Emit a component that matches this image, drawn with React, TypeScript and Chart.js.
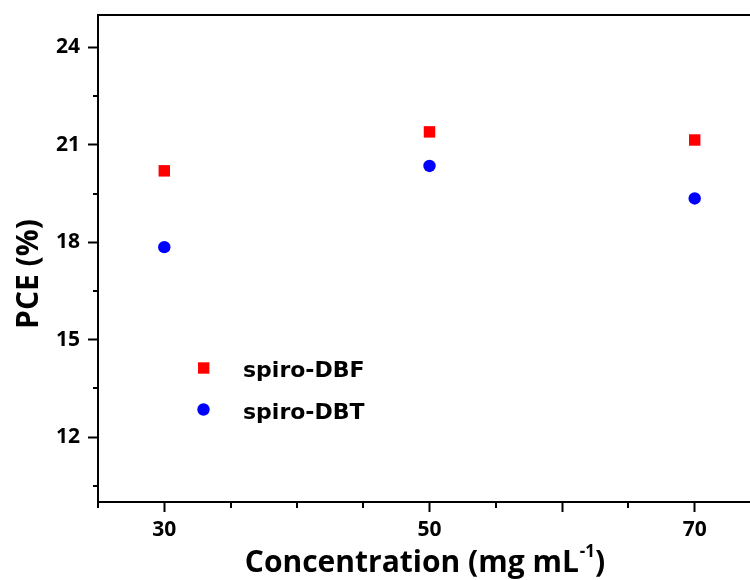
import React, { useEffect, useRef } from 'react';
import { Chart, registerables } from 'chart.js';

Chart.register(...registerables);

// ---- data ----
const concentrations = [30, 50, 70];
const dbfPCE = [20.2, 21.4, 21.15];
const dbtPCE = [17.85, 20.35, 19.35];
const seriesLabels = ['spiro-DBF', 'spiro-DBT'];
const seriesColors = ['#ff0000', '#0000ff'];

// ---- ticks ----
const xTickValues = [25, 30, 35, 40, 45, 50, 55, 60, 65, 70];
const xLongTicks = [30, 50, 60, 70];
const xLabelTicks = [30, 50, 70];
const yTickValues = [10.5, 12, 13.5, 15, 16.5, 18, 19.5, 21, 22.5, 24];
const yMajorTicks = [12, 15, 18, 21, 24];

// ---- titles ----
const xTitleMain = 'Concentration (mg mL';
const xTitleSup = '-1';
const xTitleEnd = ')';
const yTitle = 'PCE (%)';

const TICK_FONT = { family: '"Open Sans", sans-serif', size: 21, weight: 'bold' as const };

const decorPlugin = {
  id: 'decor',
  afterDraw(chart: any) {
    const { ctx, chartArea, scales } = chart;
    const x = scales.x;
    const y = scales.y;
    ctx.save();
    ctx.strokeStyle = '#000';
    ctx.lineWidth = 2;
    // top frame line
    ctx.beginPath();
    ctx.moveTo(chartArea.left - 1, chartArea.top);
    ctx.lineTo(chart.width, chartArea.top);
    ctx.stroke();
    // minor x ticks
    xTickValues.filter((v) => !xLongTicks.includes(v)).forEach((v) => {
      const px = Math.round(x.getPixelForValue(v));
      ctx.beginPath();
      ctx.moveTo(px, chartArea.bottom);
      ctx.lineTo(px, chartArea.bottom + 6);
      ctx.stroke();
    });
    // minor y ticks
    yTickValues.filter((v) => !yMajorTicks.includes(v)).forEach((v) => {
      const py = Math.round(y.getPixelForValue(v));
      ctx.beginPath();
      ctx.moveTo(chartArea.left - 5, py);
      ctx.lineTo(chartArea.left, py);
      ctx.stroke();
    });

    ctx.fillStyle = '#000';
    // y title
    ctx.save();
    ctx.translate(37.5, 274);
    ctx.rotate(-Math.PI / 2);
    ctx.font = 'bold 30px "Open Sans", sans-serif';
    ctx.textAlign = 'center';
    ctx.textBaseline = 'alphabetic';
    ctx.fillText(yTitle, 0, 0);
    ctx.restore();

    // x title with superscript
    const mainFont = 'bold 30px "Open Sans", sans-serif';
    const supFont = 'bold 17px "Open Sans", sans-serif';
    ctx.textBaseline = 'alphabetic';
    ctx.textAlign = 'left';
    ctx.font = mainFont;
    const w1 = ctx.measureText(xTitleMain).width;
    const w3 = ctx.measureText(xTitleEnd).width;
    ctx.font = supFont;
    const w2 = ctx.measureText(xTitleSup).width + 1;
    const total = w1 + w2 + w3;
    const startX = 425 - total / 2;
    const baseY = 572;
    ctx.font = mainFont;
    ctx.fillText(xTitleMain, startX, baseY);
    ctx.font = supFont;
    ctx.fillText(xTitleSup, startX + w1 + 1, baseY - 15);
    ctx.font = mainFont;
    ctx.fillText(xTitleEnd, startX + w1 + w2, baseY);

    // legend
    const legendItems = chart.data.datasets.map((d: any) => ({ label: d.label, color: d.backgroundColor, style: d.pointStyle }));
    const legendY = [368, 409.5];
    legendItems.forEach((it: any, i: number) => {
      const cy = legendY[i];
      ctx.fillStyle = it.color;
      if (it.style === 'rect') {
        ctx.fillRect(203.7 - 5.7, cy - 5.7, 11.4, 11.4);
      } else {
        ctx.beginPath();
        ctx.arc(203.5, cy, 6.2, 0, Math.PI * 2);
        ctx.fill();
      }
      ctx.fillStyle = '#000';
      ctx.font = 'bold 22px "DejaVu Sans", sans-serif';
      ctx.textAlign = 'left';
      ctx.textBaseline = 'alphabetic';
      ctx.fillText(it.label, 243, cy + 9);
    });
    ctx.restore();
  },
};

export default function App() {
  const ref = useRef<HTMLCanvasElement | null>(null);
  useEffect(() => {
    if (!ref.current) return;
    const chart = new Chart(ref.current, {
      type: 'scatter',
      data: {
        datasets: [
          {
            label: seriesLabels[0],
            data: concentrations.map((c, i) => ({ x: c, y: dbfPCE[i] })),
            backgroundColor: seriesColors[0],
            borderColor: seriesColors[0],
            borderWidth: 0,
            pointStyle: 'rect',
            pointRadius: 8.1,
          },
          {
            label: seriesLabels[1],
            data: concentrations.map((c, i) => ({ x: c, y: dbtPCE[i] })),
            backgroundColor: seriesColors[1],
            borderColor: seriesColors[1],
            borderWidth: 0,
            pointStyle: 'circle',
            pointRadius: 6.2,
          },
        ],
      },
      options: {
        animation: false,
        responsive: false,
        devicePixelRatio: 1,
        layout: { padding: { top: 15, right: 9, left: 0, bottom: 0 } },
        plugins: { legend: { display: false }, tooltip: { enabled: false } },
        scales: {
          x: {
            type: 'linear',
            min: 25,
            max: 75,
            afterFit: (s: any) => { s.height = 78; s.paddingLeft = 0; s.paddingRight = 0; },
            afterBuildTicks: (s: any) => { s.ticks = xTickValues.map((v) => ({ value: v })); },
            border: { display: true, color: '#000', width: 2 },
            grid: {
              display: true,
              drawOnChartArea: false,
              drawTicks: true,
              tickLength: 10,
              tickWidth: 2,
              tickColor: (c: any) => (c.tick && xLongTicks.includes(c.tick.value) ? '#000' : 'rgba(0,0,0,0)'),
            },
            ticks: {
              autoSkip: false,
              maxRotation: 0,
              padding: 5,
              color: '#000',
              font: TICK_FONT,
              callback: (v: any) => (xLabelTicks.includes(Number(v)) ? String(v) : ''),
            },
          },
          y: {
            type: 'linear',
            min: 10,
            max: 25,
            afterFit: (s: any) => { s.width = 98; s.paddingTop = 0; s.paddingBottom = 0; },
            afterBuildTicks: (s: any) => { s.ticks = yTickValues.map((v) => ({ value: v })); },
            border: { display: true, color: '#000', width: 2 },
            grid: {
              display: true,
              drawOnChartArea: false,
              drawTicks: true,
              tickLength: 10,
              tickWidth: 2,
              tickColor: (c: any) => (c.tick && yMajorTicks.includes(c.tick.value) ? '#000' : 'rgba(0,0,0,0)'),
            },
            ticks: {
              autoSkip: false,
              padding: 8,
              color: '#000',
              font: TICK_FONT,
              callback: (v: any) => (yMajorTicks.includes(Number(v)) ? String(v) : ''),
            },
          },
        },
      },
      plugins: [decorPlugin],
    });
    return () => chart.destroy();
  }, []);
  return (
    <div style={{ position: 'absolute', left: 0, top: 0, width: 750, height: 580, overflow: 'hidden', background: '#fff' }}>
      <canvas ref={ref} width={770} height={580} style={{ display: 'block' }} />
    </div>
  );
}
